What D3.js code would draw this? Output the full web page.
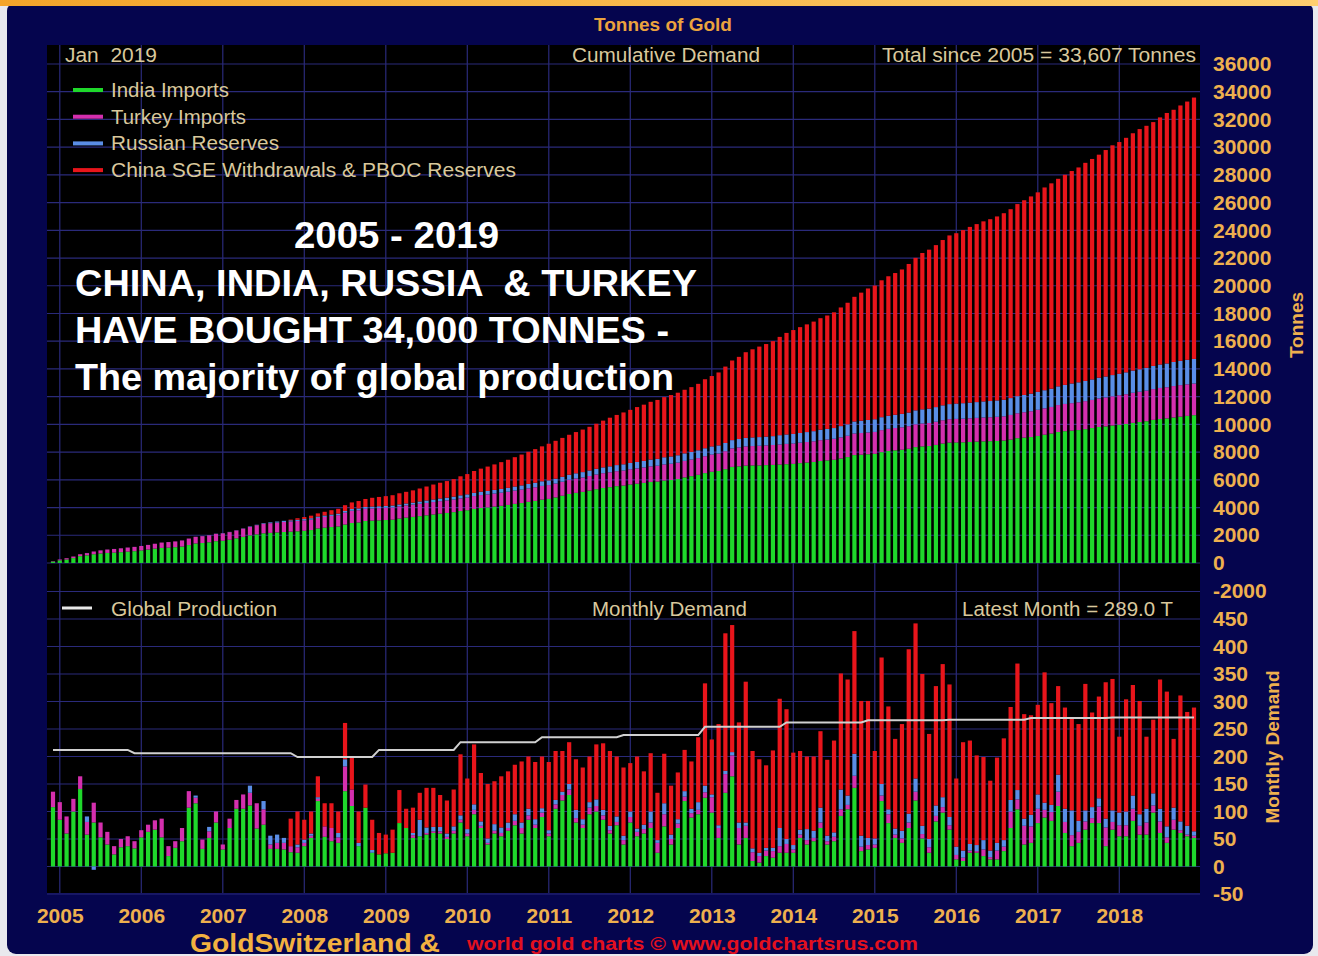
<!DOCTYPE html>
<html>
<head>
<meta charset="utf-8">
<script src="https://cdn.jsdelivr.net/npm/d3@7"></script>
<style>
  body { margin: 0; background: #ffffff; }
  text { font-family: "Liberation Sans", Arial, sans-serif; }
</style>
</head>
<body>
<svg id="chart" width="1318" height="956"></svg>
<script>
// monthly tonnes, Jan 2005 .. Jan 2019 (169 months), one row per year
const india = [
  108,85,60,100,141,58,80,53,40,22,35,37,
  33,53,63,67,53,19,34,46,107,115,32,52,
  80,31,70,105,105,111,69,76,32,32,31,26,
  25,37,52,119,54,46,43,137,110,37,107,25,
  22,24,25,79,70,52,55,58,61,60,50,60,
  80,55,95,70,40,60,55,65,75,60,85,70,
  90,55,105,120,130,80,70,95,100,85,60,75,
  40,80,55,60,70,25,73,40,70,119,89,95,
  125,98,52,134,164,40,52,10,7,19,16,25,
  25,25,52,40,46,70,40,46,92,104,143,28,
  31,34,119,79,52,43,70,120,51,25,82,98,
  67,13,10,25,25,19,13,13,28,70,104,40,
  43,79,89,83,110,61,37,43,67,79,79,37,
  67,55,55,83,58,58,98,61,43,67,61,55,
  52
];
const turkey = [
  28,32,31,23,23,23,36,27,23,15,15,18,
  13,13,13,17,34,18,12,24,30,10,17,12,
  20,9,17,16,26,23,46,28,8,11,12,11,
  10,6,4,4,19,24,10,45,30,0,0,0,
  0,0,0,0,0,5,0,3,3,4,4,5,
  5,5,8,4,3,5,6,5,8,10,8,6,
  8,5,8,10,10,8,6,12,10,8,6,6,
  8,10,8,8,10,18,22,10,8,8,8,8,
  10,28,18,34,38,30,22,16,12,10,12,12,
  16,6,6,8,6,10,6,8,12,8,22,8,
  8,6,10,16,6,8,10,16,8,10,10,10,
  8,8,6,4,3,12,4,16,8,30,18,34,
  30,26,14,16,26,20,20,20,15,9,30,34,
  14,20,20,22,16,22,13,21,10,18,5,3,
  4
];
const russia = [
  0,0,0,0,0,10,-6,0,0,0,0,0,
  0,0,0,0,0,0,0,0,0,4,0,8,
  0,0,0,0,0,13,0,15,16,15,9,0,
  5,6,4,3,0,0,8,13,0,6,0,5,
  0,0,0,0,0,4,30,10,8,8,6,8,
  8,8,10,8,8,12,10,10,12,10,12,10,
  8,6,8,6,10,15,10,10,12,10,8,10,
  8,10,6,8,20,5,20,8,8,10,8,14,
  12,5,5,6,6,10,6,7,6,5,6,33,
  9,8,9,20,13,27,10,8,36,17,40,20,
  13,11,21,9,11,14,16,24,15,15,19,18,
  15,15,13,12,11,17,12,14,12,21,17,13,
  21,26,13,13,31,24,45,20,20,20,15,16,
  21,23,25,24,21,25,22,23,20,22,16,16,
  8
];
const china = [
  0,0,0,0,0,0,0,0,0,0,0,0,
  0,0,0,0,0,0,0,0,0,0,0,0,
  0,0,0,0,0,0,0,0,0,0,0,50,
  60,36,40,38,42,45,39,66,60,57,42,55,
  39,34,42,60,35,46,49,72,71,58,60,67,
  111,92,109,88,99,78,93,93,90,111,95,104,
  94,124,89,74,76,92,94,83,100,121,136,109,
  124,88,131,97,106,86,90,89,85,75,86,118,
  186,100,184,250,231,182,256,177,170,150,177,235,
  236,168,143,132,135,139,138,167,211,211,223,245,
  249,159,230,187,163,194,299,282,276,191,217,242,
  241,124,197,188,163,151,127,155,185,169,230,190,
  181,163,237,185,161,184,169,176,230,172,185,248,
  239,138,204,201,206,131,134,235,245,125,229,207,
  225
];
// global mine production, tonnes per month, one value per year 2005..2019
const production = [212,206,206,199,212,226,235,239,254,262,266,267,270,271,271];
const years = d3.range(2005, 2019);
const topTicks = d3.range(-2000, 36001, 2000);
const botTicks = d3.range(-50, 451, 50);

const seriesNames = ["India Imports", "Turkey Imports", "Russian Reserves", "China SGE Withdrawals & PBOC Reserves"];
const colors = ["#1fd82b", "#d42fae", "#5a8ee6", "#e8151b"];

const months = d3.timeMonth.range(new Date(2005, 0, 1), new Date(2019, 1, 1));
const keys = ["india", "turkey", "russia", "china"];
const monthly = months.map((m, i) => ({ i, india: india[i], turkey: turkey[i], russia: russia[i], china: china[i] }));
const cum = { india: d3.cumsum(india), turkey: d3.cumsum(turkey), russia: d3.cumsum(russia), china: d3.cumsum(china) };
const cumulative = months.map((m, i) => ({ i, india: cum.india[i], turkey: cum.turkey[i], russia: cum.russia[i], china: cum.china[i] }));

const svg = d3.select("#chart");
const gold = "#eeb04e", beige = "#d9c89c", grid = "#2a2a7a";

// frame
const defs = svg.append("defs");
const grad = defs.append("linearGradient").attr("id", "topbar").attr("x1", 0).attr("x2", 1);
grad.append("stop").attr("offset", "0%").attr("stop-color", "#f4a52a");
grad.append("stop").attr("offset", "100%").attr("stop-color", "#ffcf70");
svg.append("rect").attr("x", 0).attr("y", 0).attr("width", 1318).attr("height", 956).attr("fill", "#e9e9ee");
svg.append("rect").attr("x", 7).attr("y", 2).attr("width", 1306).attr("height", 952).attr("rx", 9).attr("fill", "#05054e");
svg.append("rect").attr("x", 0).attr("y", 0).attr("width", 1318).attr("height", 6).attr("fill", "url(#topbar)");

// plot area
const pLeft = 47, pRight = 1200, pTop = 45, pBottom = 893;
svg.append("rect").attr("x", pLeft).attr("y", pTop).attr("width", pRight - pLeft).attr("height", pBottom - pTop).attr("fill", "#000");

const x = d3.scaleLinear().domain([0, 168]).range([53, 1194]);
const yTop = d3.scaleLinear().domain([-2000, 36000]).range([590.7, 64]);
const yBot = d3.scaleLinear().domain([-50, 450]).range([894, 619]);
const bw = 4.2;

// gridlines
const gridG = svg.append("g").attr("stroke", grid).attr("stroke-width", 1.2);
gridG.selectAll(".gt").data(topTicks.filter(d => d > -2000)).join("line")
  .attr("x1", pLeft).attr("x2", pRight).attr("y1", d => yTop(d)).attr("y2", d => yTop(d));
gridG.selectAll(".gb").data(botTicks.concat([500])).join("line")
  .attr("x1", pLeft).attr("x2", pRight).attr("y1", d => yBot(d)).attr("y2", d => yBot(d));
gridG.selectAll(".gv").data(years).join("line")
  .attr("x1", d => x((d - 2005) * 12 + 1)).attr("x2", d => x((d - 2005) * 12 + 1))
  .attr("y1", pTop).attr("y2", pBottom);

// stacked bars
const stack = d3.stack().keys(keys).offset(d3.stackOffsetDiverging);
function drawBars(data, y) {
  const g = svg.append("g");
  g.selectAll("g").data(stack(data)).join("g")
    .attr("fill", (d, k) => colors[k])
    .selectAll("rect").data(d => d).join("rect")
    .attr("x", d => x(d.data.i) - bw / 2)
    .attr("width", bw)
    .attr("y", d => y(Math.max(d[0], d[1])))
    .attr("height", d => Math.abs(y(d[0]) - y(d[1])));
}
drawBars(cumulative, yTop);
drawBars(monthly, yBot);

// global production line (one level per year)
const prodPts = [];
production.forEach((v, k) => {
  prodPts.push([k * 12, v]);
  prodPts.push([Math.min(k * 12 + 11, 168), v]);
});
svg.append("path").datum(prodPts)
  .attr("fill", "none").attr("stroke", "#d0d0d0").attr("stroke-width", 2)
  .attr("d", d3.line().x(d => x(d[0])).y(d => yBot(d[1])));

// right axes
function styleAxis(g) {
  g.select(".domain").remove();
  g.selectAll(".tick line").remove();
  g.selectAll("text").attr("fill", gold).attr("font-size", 21).attr("font-weight", "bold")
    .attr("x", 0).attr("text-anchor", "start");
}
svg.append("g").attr("transform", "translate(1213,0)")
  .call(d3.axisRight(yTop).tickValues(topTicks).tickFormat(d => String(d)))
  .call(styleAxis);
svg.append("g").attr("transform", "translate(1213,0)")
  .call(d3.axisRight(yBot).tickValues(botTicks).tickFormat(d => String(d)))
  .call(styleAxis);

// bottom axis years
const xAxis = svg.append("g").attr("transform", "translate(0,900)")
  .call(d3.axisBottom(x).tickValues(years.map(d => (d - 2005) * 12 + 1)).tickFormat((d, k) => years[k]));
xAxis.select(".domain").remove();
xAxis.selectAll(".tick line").remove();
xAxis.selectAll("text").attr("fill", gold).attr("font-size", 21).attr("font-weight", "bold").attr("y", 8).attr("dy", "0.71em");

// axis titles
svg.append("text").attr("transform", "translate(1303,325) rotate(-90)").attr("text-anchor", "middle")
  .attr("fill", gold).attr("font-size", 19).attr("font-weight", "bold").text("Tonnes");
svg.append("text").attr("transform", "translate(1279,747) rotate(-90)").attr("text-anchor", "middle")
  .attr("fill", gold).attr("font-size", 19).attr("font-weight", "bold").text("Monthly Demand");
svg.append("text").attr("x", 663).attr("y", 31).attr("text-anchor", "middle")
  .attr("fill", "#eba33e").attr("font-size", 19).attr("font-weight", "bold").text("Tonnes of Gold");

// in-panel labels
function label(t, xx, yy, len, anchor) {
  svg.append("text").attr("x", xx).attr("y", yy).attr("text-anchor", anchor || "start")
    .attr("fill", beige).attr("font-size", 20)
    .attr("textLength", len).attr("lengthAdjust", "spacingAndGlyphs")
    .style("white-space", "pre").text(t);
}
label("Jan  2019", 65, 62, 92);
label("Cumulative Demand", 572, 62, 188);
label("Total since 2005 = 33,607 Tonnes", 882, 62, 314);
label("Global Production", 111, 616, 166);
label("Monthly Demand", 592, 616, 155);
label("Latest Month = 289.0 T", 962, 616, 211);

// legend
const legLens = [118, 135, 168, 405];
seriesNames.forEach((n, k) => {
  const yy = 90 + k * 26.7;
  svg.append("line").attr("x1", 73).attr("x2", 103).attr("y1", yy).attr("y2", yy)
    .attr("stroke", colors[k]).attr("stroke-width", 4);
  label(n, 111, yy + 7, legLens[k]);
});
svg.append("line").attr("x1", 62).attr("x2", 92).attr("y1", 608).attr("y2", 608)
  .attr("stroke", "#e8e8e8").attr("stroke-width", 3);

// headline
const head = [
  ["2005 - 2019", 294, 248, 205],
  ["CHINA, INDIA, RUSSIA  & TURKEY", 75, 296, 622],
  ["HAVE BOUGHT 34,000 TONNES -", 75, 343, 594],
  ["The majority of global production", 75, 390, 599]
];
head.forEach(h => {
  svg.append("text").attr("x", h[1]).attr("y", h[2]).attr("fill", "#ffffff")
    .attr("font-size", 36).attr("font-weight", "bold")
    .attr("textLength", h[3]).attr("lengthAdjust", "spacingAndGlyphs")
    .style("white-space", "pre").text(h[0]);
});

// footer
svg.append("text").attr("x", 190).attr("y", 952).attr("fill", "#f2b140")
  .attr("font-size", 25).attr("font-weight", "bold").attr("textLength", 250).attr("lengthAdjust", "spacingAndGlyphs")
  .text("GoldSwitzerland &");
svg.append("text").attr("x", 467).attr("y", 950).attr("fill", "#e3101e")
  .attr("font-size", 19).attr("font-weight", "bold").attr("textLength", 451).attr("lengthAdjust", "spacingAndGlyphs")
  .text("world gold charts © www.goldchartsrus.com");
</script>
</body>
</html>
